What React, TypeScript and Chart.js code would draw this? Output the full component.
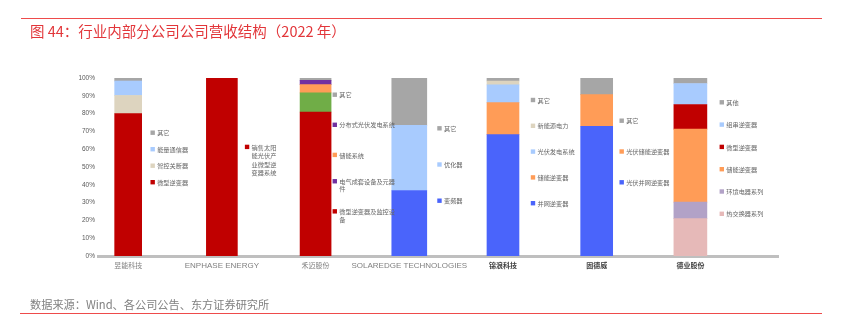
import React, { useEffect, useRef } from 'react';
import { Chart, registerables } from 'chart.js';

Chart.register(...registerables);

// ---------- data ----------
const COMPANIES = ['昱能科技', 'ENPHASE ENERGY', '禾迈股份', 'SOLAREDGE TECHNOLOGIES', '锦浪科技', '固德威', '德业股份'];

// segments listed bottom -> top
const YUNENG_LABELS = ['微型逆变器', '智控关断器', '能量通信器', '其它'];
const YUNENG_VALUES = [80, 10.2, 8.1, 1.7];

const ENPHASE_LABELS = ['销售太阳能光伏产业微型逆变器系统'];
const ENPHASE_VALUES = [100];

const HOYMILES_LABELS = ['微型逆变器及监控设备', '电气成套设备及元器件', '储能系统', '分布式光伏发电系统', '其它'];
const HOYMILES_VALUES = [80.9, 10.7, 4.7, 2.4, 1.3];

const SOLAREDGE_LABELS = ['变频器', '优化器', '其它'];
const SOLAREDGE_VALUES = [36.8, 36.6, 26.6];

const GINLONG_LABELS = ['并网逆变器', '储能逆变器', '光伏发电系统', '新能源电力', '其它'];
const GINLONG_VALUES = [68.2, 18.0, 9.9, 2.2, 1.7];

const GOODWE_LABELS = ['光伏并网逆变器', '光伏储能逆变器', '其它'];
const GOODWE_VALUES = [72.9, 17.8, 9.3];

const DEYE_LABELS = ['热交换器系列', '环境电器系列', '储能逆变器', '微型逆变器', '组串逆变器', '其他'];
const DEYE_VALUES = [21, 9.3, 41, 13.8, 11.8, 3.1];

const Y_MAX = 100;
const Y_STEP = 10;

// ---------- styles ----------
const RED = '#C00000';
const BEIGE = '#DDD4BF';
const LBLUE = '#A8CBFE';
const GRAY = '#A6A6A6';
const GREEN = '#70AD47';
const ORANGE = '#FF9C57';
const PURPLE = '#7030A0';
const BLUE = '#4A64FB';
const LAVENDER = '#B2A2C7';
const PINK = '#E6B9B8';

const YUNENG_COLORS = [RED, BEIGE, LBLUE, GRAY];
const ENPHASE_COLORS = [RED];
const HOYMILES_COLORS = [RED, GREEN, ORANGE, PURPLE, GRAY];
const HOYMILES_LEGEND_COLORS = [RED, PURPLE, ORANGE, PURPLE, GRAY];
const SOLAREDGE_COLORS = [BLUE, LBLUE, GRAY];
const GINLONG_COLORS = [BLUE, ORANGE, LBLUE, BEIGE, GRAY];
const GOODWE_COLORS = [BLUE, ORANGE, GRAY];
const DEYE_COLORS = [PINK, LAVENDER, ORANGE, RED, LBLUE, GRAY];

const SERIES = [
  { labels: YUNENG_LABELS, values: YUNENG_VALUES, colors: YUNENG_COLORS, legendColors: YUNENG_COLORS },
  { labels: ENPHASE_LABELS, values: ENPHASE_VALUES, colors: ENPHASE_COLORS, legendColors: ENPHASE_COLORS },
  { labels: HOYMILES_LABELS, values: HOYMILES_VALUES, colors: HOYMILES_COLORS, legendColors: HOYMILES_LEGEND_COLORS },
  { labels: SOLAREDGE_LABELS, values: SOLAREDGE_VALUES, colors: SOLAREDGE_COLORS, legendColors: SOLAREDGE_COLORS },
  { labels: GINLONG_LABELS, values: GINLONG_VALUES, colors: GINLONG_COLORS, legendColors: GINLONG_COLORS },
  { labels: GOODWE_LABELS, values: GOODWE_VALUES, colors: GOODWE_COLORS, legendColors: GOODWE_COLORS },
  { labels: DEYE_LABELS, values: DEYE_VALUES, colors: DEYE_COLORS, legendColors: DEYE_COLORS },
];

const BAR_WIDTHS = [27, 31, 31, 35, 32, 32, 33];

// side legend layout (pixels): dx from bar centre, first item centre y, gap, wrap width
const LEGEND_DX = [22.3, 23, 17, 28, 27.8, 22.8, 29.2];
const LEGEND_TOP = [132.7, 159.8, 94.7, 128.3, 100, 120.7, 102.3];
const LEGEND_GAP = [16.5, 0, 30.1, 36.2, 25.8, 30.8, 22.3];
const LEGEND_WRAP = [999, 28, 60, 999, 999, 999, 999];
const LEGEND_LINE_H = [8, 8.6, 7.5, 8, 8, 8, 8];

const FONT = "'Liberation Sans', 'Noto Sans CJK SC', sans-serif";
const CJK_FONT = "'Noto Sans CJK SC', 'Liberation Sans', sans-serif";

function wrapText(ctx: CanvasRenderingContext2D, text: string, maxW: number): string[] {
  const lines: string[] = [];
  let cur = '';
  for (const ch of Array.from(text)) {
    const test = cur + ch;
    if (cur && ctx.measureText(test).width > maxW) {
      lines.push(cur);
      cur = ch;
    } else {
      cur = test;
    }
  }
  if (cur) lines.push(cur);
  return lines;
}

const sideLegendPlugin = {
  id: 'sideLegends',
  afterDatasetsDraw(chart: any) {
    const ctx: CanvasRenderingContext2D = chart.ctx;
    const xs = chart.scales.x;
    ctx.save();
    ctx.font = `6.2px ${CJK_FONT}`;
    ctx.textBaseline = 'middle';
    ctx.textAlign = 'left';
    SERIES.forEach((s, i) => {
      const bx = xs.getPixelForValue(i) + LEGEND_DX[i];
      const items = s.labels.map((l, k) => ({ label: l, color: s.legendColors[k] })).reverse();
      items.forEach((it, k) => {
        const lines = wrapText(ctx, it.label, LEGEND_WRAP[i]);
        const yc = LEGEND_TOP[i] + k * LEGEND_GAP[i];
        const lh = LEGEND_LINE_H[i];
        const y0 = yc - ((lines.length - 1) * lh) / 2;
        ctx.fillStyle = it.color;
        ctx.fillRect(bx, y0 - 2.2, 4.4, 4.4);
        ctx.fillStyle = '#666666';
        lines.forEach((ln, j) => ctx.fillText(ln, bx + 6.7, y0 + j * lh + 0.3));
      });
    });
    ctx.restore();
  },
};

function App() {
  const canvasRef = useRef<HTMLCanvasElement | null>(null);

  useEffect(() => {
    if (!canvasRef.current) return;
    const datasets: any[] = [];
    SERIES.forEach((s, i) => {
      s.values.forEach((v, k) => {
        datasets.push({
          label: `${COMPANIES[i]}-${s.labels[k]}`,
          data: [{ x: i, y: v }],
          backgroundColor: s.colors[k],
          borderWidth: 0,
          barThickness: BAR_WIDTHS[i],
          stack: 'main',
        });
      });
    });

    const chart = new Chart(canvasRef.current, {
      type: 'bar',
      data: { datasets },
      plugins: [sideLegendPlugin],
      options: {
        animation: false,
        responsive: false,
        devicePixelRatio: 1,
        layout: { padding: { left: 68, right: 64, top: 78, bottom: 42 } },
        plugins: { legend: { display: false }, tooltip: { enabled: false }, title: { display: false } },
        scales: {
          x: {
            type: 'linear',
            stacked: true,
            offset: false,
            min: -0.322,
            max: 6.935,
            grid: { display: false, drawTicks: false },
            border: { display: true, color: '#BFBFBF', width: 3 },
            afterBuildTicks: (scale: any) => {
              scale.ticks = COMPANIES.map((_, i) => ({ value: i }));
            },
            afterFit: (scale: any) => {
              scale.height = 20;
            },
            ticks: {
              autoSkip: false,
              maxRotation: 0,
              minRotation: 0,
              padding: 5,
              callback: (v: any) => COMPANIES[Math.round(Number(v))] ?? '',
              color: (c: any) => (c.index >= 4 ? '#404040' : '#808080'),
              font: (c: any) => {
                const name = COMPANIES[c.index] || '';
                const isLatin = /^[A-Z ]+$/.test(name);
                return {
                  size: isLatin ? 8 : 7,
                  family: isLatin ? FONT : CJK_FONT,
                  weight: c.index >= 4 ? 'bold' : 'normal',
                };
              },
            },
          },
          y: {
            stacked: true,
            min: 0,
            max: Y_MAX,
            grid: { display: false, drawTicks: false },
            border: { display: false },
            afterFit: (scale: any) => {
              scale.width = 30;
            },
            ticks: {
              stepSize: Y_STEP,
              padding: 3,
              color: '#595959',
              font: { size: 6.5, family: FONT },
              callback: (v: any) => `${v}%`,
            },
          },
        },
      } as any,
    });
    return () => chart.destroy();
  }, []);

  return (
    <div style={{ position: 'absolute', left: 0, top: 0, width: 842, height: 318, background: '#fff', overflow: 'hidden' }}>
      <canvas ref={canvasRef} width={842} height={318} style={{ position: 'absolute', left: 0, top: 0, width: 842, height: 318 }} />
      <div style={{ position: 'absolute', left: 21, top: 18, width: 801, height: 1, background: '#EE4B4B' }} />
      <div
        style={{
          position: 'absolute',
          left: 30,
          top: 22,
          fontFamily: CJK_FONT,
          fontSize: 14.5,
          lineHeight: '18px',
          color: '#E2363A',
          whiteSpace: 'nowrap',
        }}
      >
        图 44：行业内部分公司公司营收结构（2022 年）
      </div>
      <div
        style={{
          position: 'absolute',
          left: 30,
          top: 297,
          fontFamily: CJK_FONT,
          fontSize: 11.2,
          lineHeight: '14px',
          color: '#808080',
          whiteSpace: 'nowrap',
        }}
      >
        数据来源：Wind、各公司公告、东方证券研究所
      </div>
      <div style={{ position: 'absolute', left: 20, top: 313, width: 802, height: 1, background: '#EE4B4B' }} />
    </div>
  );
}

export default App;
